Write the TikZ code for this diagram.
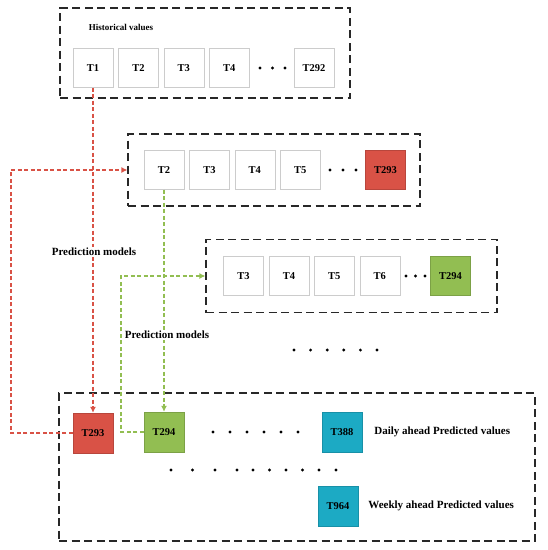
\documentclass[tikz,border=0pt]{standalone}
\usepackage{fontspec}
\setmainfont{Liberation Serif}
\usepackage{xcolor}
\usetikzlibrary{arrows.meta}
\usetikzlibrary{positioning}
\usetikzlibrary{shadows}
\definecolor{qred}{RGB}{217,82,70}
\definecolor{qgreen}{RGB}{146,190,82}
\definecolor{qteal}{RGB}{28,170,196}
\definecolor{qframe}{RGB}{40,40,40}

\tikzset{
  val/.style={draw=black!20, fill=white, minimum width=40pt, minimum height=39pt,
    inner sep=0pt, font=\fontsize{10.5}{12}\selectfont\bfseries,
    drop shadow={shadow xshift=0.8pt, shadow yshift=-0.8pt, fill=black!18}},
  redval/.style={val, fill=qred, draw=qred!85!black},
  greenval/.style={val, fill=qgreen, draw=qgreen!85!black},
  tealval/.style={val, fill=qteal, draw=qteal!85!black},
  frame/.style={draw=qframe, line width=1.2pt, dash pattern=on 8pt off 4.5pt, inner sep=0pt},
  redlink/.style={draw=qred, line width=1.6pt, dash pattern=on 4pt off 2.5pt},
  greenlink/.style={draw=qgreen, line width=1.6pt, dash pattern=on 4pt off 2.5pt},
  tip/.style={-{Latex[length=6pt,width=6pt]}},
  txt/.style={font=\fontsize{11}{13}\selectfont\bfseries, inner sep=1pt},
}

\begin{document}
\begin{tikzpicture}[x=1pt,y=-1pt]
\useasboundingbox (0,0) rectangle (548,550);

%Frames:
\node[frame, minimum width=290pt, minimum height=90pt] (hist) at (205,53) {};
\node[frame, minimum width=292pt, minimum height=72pt] (win1) at (274,170) {};
\node[frame, minimum width=291pt, minimum height=73pt] (win2) at (351.5,276) {};
\node[frame, minimum width=476pt, minimum height=148pt] (pred) at (297,467) {};

%Historical values:
\node[font=\fontsize{9}{10}\selectfont\bfseries] (htitle) at (121,27) {Historical values};
\node[val] (h1) at (93,68) {T1};
\node[val, right=5pt of h1] (h2) {T2};
\node[val, right=5pt of h2] (h3) {T3};
\node[val, right=5pt of h3] (h4) {T4};
\node[val] (h292) at (314,68) {T292};
\foreach \x in {260,272.5,285} \fill (\x,68) circle(1.6pt);

%First window:
\node[val] (a2) at (164,170) {T2};
\node[val, right=5pt of a2] (a3) {T3};
\node[val, right=5pt of a3] (a4) {T4};
\node[val, right=5pt of a4] (a5) {T5};
\node[redval] (a293) at (385.5,170) {T293};
\foreach \x in {330,343,356} \fill (\x,170) circle(1.6pt);

%Second window:
\node[val] (b3) at (243.5,276) {T3};
\node[val, right=5pt of b3] (b4) {T4};
\node[val, right=5pt of b4] (b5) {T5};
\node[val, right=5pt of b5] (b6) {T6};
\node[greenval] (b294) at (450.5,276) {T294};
\foreach \x in {406,415.5,425} \fill (\x,276) circle(1.6pt);

\foreach \x in {294,310.6,327.2,343.8,360.4,377} \fill (\x,350) circle(1.6pt);

%Predicted values:
\node[redval, minimum height=40pt] (p293) at (93,433) {T293};
\node[greenval, minimum height=40pt] (p294) at (164,432) {T294};
\node[tealval, minimum height=40pt] (p388) at (342,432) {T388};
\node[tealval, minimum height=40pt] (p964) at (338,506) {T964};
\node[txt, anchor=west] (daily) at (p388.east) [xshift=11pt] {Daily ahead Predicted values};
\node[txt, anchor=west] (weekly) at (p964.east) [xshift=9pt] {Weekly ahead Predicted values};
\foreach \x in {213,230,247,264,281,298} \fill (\x,432) circle(1.6pt);
\foreach \x in {171,192.5,215,237,253,269.5,286,302.5,319,336} \fill (\x,470) circle(1.6pt);

%Links:
\coordinate (rturn) at (11,433);
\coordinate (gturn) at (121,432);
\draw[redlink,tip] (h1.south) -- (p293.north);
\draw[redlink,tip] (p293.west) -- (rturn) |- (win1.west);
\draw[greenlink,tip] (a2.south) -- (p294.north);
\draw[greenlink,tip] (p294.west) -- (gturn) |- (win2.west);

\node[txt, fill=white] (pm1) at (94,252) {Prediction models};
\node[txt, fill=white] (pm2) at (167,335) {Prediction models};

\end{tikzpicture}
\end{document}
